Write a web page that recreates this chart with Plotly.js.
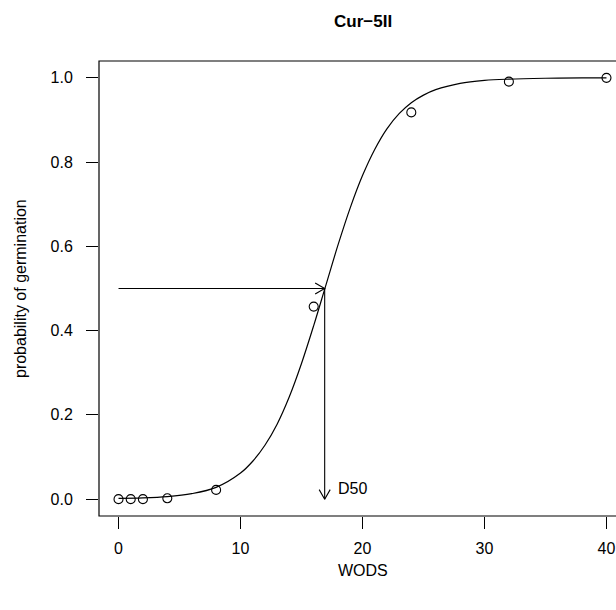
<!DOCTYPE html>
<html>
<head>
<meta charset="utf-8">
<script src="https://cdn.plot.ly/plotly-3.0.1.min.js"></script>
<style>
html,body{margin:0;padding:0;overflow:hidden;background:#fff;}
#chart{width:641px;height:610px;}
</style>
</head>
<body>
<div id="chart"></div>
<script>
// observed germination data
var wods = [0, 1, 2, 4, 8, 16, 24, 32, 40];
var germ = [0, 0, 0, 0.002, 0.022, 0.457, 0.918, 0.991, 1.0];
// fitted curve
var curveX = [0, 2, 4, 6, 8, 10, 11, 12, 13, 14, 15, 16, 17, 18, 19, 20, 21, 22, 23, 24, 25, 26, 28, 30, 32, 35, 38, 40];
var curveY = [0.002, 0.003, 0.006, 0.013, 0.028, 0.062, 0.090, 0.128, 0.178, 0.243, 0.322, 0.412, 0.508, 0.604, 0.692, 0.768, 0.830, 0.879, 0.915, 0.941, 0.959, 0.972, 0.987, 0.994, 0.997, 0.999, 1.0, 1.0];
var d50 = 16.9;
var xTicks = [0, 10, 20, 30, 40];
var yTicks = [0, 0.2, 0.4, 0.6, 0.8, 1.0];
var yTickText = ["0.0", "0.2", "0.4", "0.6", "0.8", "1.0"];

var W = 641, H = 610;
var M = {l: 99, r: 15, t: 61, b: 94};
var xr = [-1.6, 41.6], yr = [-0.04, 1.04];
var pw = W - M.l - M.r, ph = H - M.t - M.b;
var sx = pw / (xr[1] - xr[0]), sy = ph / (yr[1] - yr[0]);

function head(x0, y0, x1, y1) {
  // open arrowhead at (x1,y1), computed in pixel space
  var dx = (x1 - x0) * sx, dy = (y1 - y0) * sy;
  var len = Math.sqrt(dx * dx + dy * dy);
  dx /= len; dy /= len;
  var L = 11, a = Math.PI / 6;
  var pts = [];
  [a, -a].forEach(function (t) {
    var rx = dx * Math.cos(t) - dy * Math.sin(t);
    var ry = dx * Math.sin(t) + dy * Math.cos(t);
    pts.push([x1 - L * rx / sx, y1 - L * ry / sy]);
  });
  return {x: [pts[0][0], x1, pts[1][0]], y: [pts[0][1], y1, pts[1][1]]};
}

var lineStyle = {color: '#000', width: 1.1};
var h1 = head(0, 0.5, d50, 0.5);
var h2 = head(d50, 0.5, d50, 0);

var traces = [
  {x: curveX, y: curveY, mode: 'lines', line: {color: '#000', width: 1.2, shape: 'spline'}, hoverinfo: 'skip'},
  {x: wods, y: germ, mode: 'markers', marker: {symbol: 'circle-open', size: 9, color: '#000', line: {width: 1.1, color: '#000'}}},
  {x: [0, d50], y: [0.5, 0.5], mode: 'lines', line: lineStyle},
  {x: [d50, d50], y: [0.5, 0], mode: 'lines', line: lineStyle},
  {x: h1.x, y: h1.y, mode: 'lines', line: lineStyle},
  {x: h2.x, y: h2.y, mode: 'lines', line: lineStyle}
];

var ff = 'Liberation Sans, Arial, sans-serif';
var layout = {
  width: W, height: H,
  margin: M,
  showlegend: false,
  paper_bgcolor: '#fff', plot_bgcolor: '#fff',
  font: {family: ff, size: 16, color: '#000'},
  xaxis: {
    range: xr, tickmode: 'array', tickvals: xTicks, ticktext: xTicks.map(String),
    ticks: 'outside', ticklen: 12, tickwidth: 1, tickcolor: '#000',
    showgrid: false, zeroline: false, showline: false,
    tickfont: {family: ff, size: 16, color: '#000'}, ticklabelstandoff: 6
  },
  yaxis: {
    range: yr, tickmode: 'array', tickvals: yTicks, ticktext: yTickText,
    ticks: 'outside', ticklen: 12, tickwidth: 1, tickcolor: '#000',
    showgrid: false, zeroline: false, showline: false,
    tickfont: {family: ff, size: 16, color: '#000'}, ticklabelstandoff: 10
  },
  shapes: [
    {type: 'rect', xref: 'paper', yref: 'paper', x0: 0, x1: 1, y0: 0, y1: 1, line: {color: '#000', width: 1.2}}
  ],
  annotations: [
    {text: '<b>Cur\u22125II</b>', xref: 'paper', yref: 'paper', x: 0.5, y: 1, yshift: 51, showarrow: false, font: {family: ff, size: 17, color: '#000'}},
    {text: 'WODS', xref: 'paper', yref: 'paper', x: 0.5, y: 0, yshift: -65, showarrow: false, font: {family: ff, size: 16, color: '#000'}},
    {text: 'probability of germination', xref: 'paper', yref: 'paper', x: 0, xshift: -89, y: 0.5, textangle: -90, showarrow: false, font: {family: ff, size: 16, color: '#000'}},
    {text: 'D50', xref: 'x', yref: 'y', x: d50, y: 0.025, xanchor: 'left', xshift: 11, showarrow: false, font: {family: ff, size: 16, color: '#000'}}
  ]
};

Plotly.newPlot('chart', traces, layout, {staticPlot: true});
</script>
</body>
</html>
